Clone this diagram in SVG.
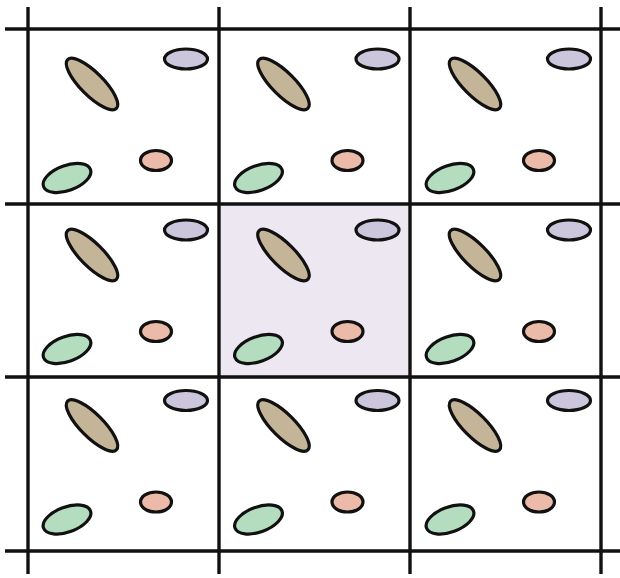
<svg xmlns="http://www.w3.org/2000/svg" xmlns:xlink="http://www.w3.org/1999/xlink" width="620" height="578" viewBox="0 0 620 578">
<style>
.e{stroke:#111;stroke-width:3.2}
.br{fill:#c5b598}.pu{fill:#cbc6dc}.pk{fill:#ebbaa9}.gr{fill:#b4dcbf}
.ln{stroke:#111;stroke-width:3.4;fill:none}
</style>
<defs>
<g id="tile">
<ellipse class="e br" cx="0" cy="0" rx="34.5" ry="11.5" transform="translate(92 84) rotate(45)"/>
<ellipse class="e pu" cx="186" cy="59" rx="21.5" ry="10"/>
<ellipse class="e pk" cx="156" cy="160.5" rx="15.5" ry="10"/>
<ellipse class="e gr" cx="0" cy="0" rx="25" ry="12.5" transform="translate(67 178) rotate(-20)"/>
</g>
</defs>
<rect width="620" height="578" fill="#fff"/>
<g id="highlight"><rect x="219" y="204" width="191" height="173" fill="#ede7f2"/></g>
<g id="cells">
<g id="c00"><use xlink:href="#tile"/></g>
<g id="c01"><use xlink:href="#tile" transform="translate(191.5 0)"/></g>
<g id="c02"><use xlink:href="#tile" transform="translate(383 0)"/></g>
<g id="c10"><use xlink:href="#tile" transform="translate(0 171)"/></g>
<g id="c11"><use xlink:href="#tile" transform="translate(191.5 171)"/></g>
<g id="c12"><use xlink:href="#tile" transform="translate(383 171)"/></g>
<g id="c20"><use xlink:href="#tile" transform="translate(0 341.5)"/></g>
<g id="c21"><use xlink:href="#tile" transform="translate(191.5 341.5)"/></g>
<g id="c22"><use xlink:href="#tile" transform="translate(383 341.5)"/></g>
</g>
<g id="grid" class="ln">
<line x1="28" y1="7" x2="28" y2="574"/>
<line x1="219" y1="7" x2="219" y2="574"/>
<line x1="410" y1="7" x2="410" y2="574"/>
<line x1="601" y1="7" x2="601" y2="574"/>
<line x1="5" y1="29" x2="620" y2="29"/>
<line x1="5" y1="204" x2="620" y2="204"/>
<line x1="5" y1="377" x2="620" y2="377"/>
<line x1="5" y1="551" x2="620" y2="551"/>
</g>
</svg>
